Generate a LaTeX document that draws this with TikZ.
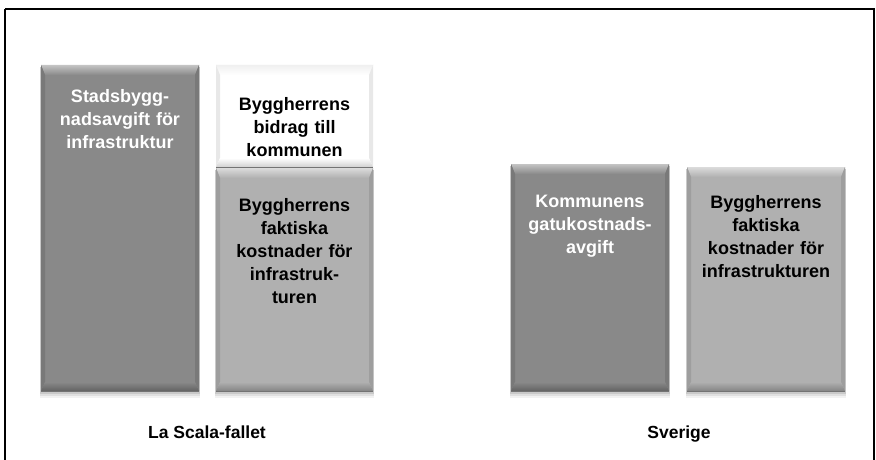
\documentclass[tikz,border=0pt]{standalone}
\usepackage{fontspec}
\setmainfont{Liberation Sans}
\usetikzlibrary{calc}

\definecolor{darkbar}{HTML}{898989}
\definecolor{lightbar}{HTML}{B0B0B0}
\definecolor{palebar}{HTML}{FFFFFF}

% Beveled bar: #1 node name, #2 base colour, #3 top band, #4 side bands, #5 bottom band
\newcommand\bevelbar[5]{%
  \fill[#2] (#1.north west) rectangle (#1.south east);
  \shade[top color=#3, bottom color=#2] (#1.north west) -- (#1.north east)
        -- ($(#1.north east)+(-4,10)$) -- ($(#1.north west)+(4,10)$) -- cycle;
  \fill[#4] (#1.north west) -- ($(#1.north west)+(4,10)$)
        -- ($(#1.south west)+(4,-9)$) -- (#1.south west) -- cycle;
  \fill[#4] (#1.north east) -- ($(#1.north east)+(-4,10)$)
        -- ($(#1.south east)+(-4,-9)$) -- (#1.south east) -- cycle;
  \shade[top color=#2, bottom color=#5] (#1.south west) -- (#1.south east)
        -- ($(#1.south east)+(-4,-9)$) -- ($(#1.south west)+(4,-9)$) -- cycle;
  \draw[black!55, line width=0.6pt] (#1.south west) -- (#1.south east);
}
% Soft shadow under a bar
\newcommand\barshadow[1]{%
  \foreach \d/\o in {7/0.05,5/0.07,3/0.10}{%
    \fill[black, opacity=\o] ($(#1.north west)+(-1,2)$) rectangle ($(#1.south east)+(1,\d)$);
  }%
}

\begin{document}
\begin{tikzpicture}[x=1pt, y=-1pt,
  bar/.style={inner sep=0pt, outer sep=0pt, draw=none},
  bartext/.style={font=\fontsize{18}{23}\selectfont\bfseries, align=center,
                  text width=156pt, inner sep=0pt, anchor=north},
  caption/.style={font=\fontsize{17.5}{21}\selectfont\bfseries, inner sep=0pt, anchor=base},
  frame/.style={draw=black, line width=2pt}]

\useasboundingbox (0,0) rectangle (876,460);
\fill[white] (0,0) rectangle (876,460);

% bars
\coordinate (c1) at (120,228);
\coordinate (c2a) at (294.5,116);
\coordinate (c2b) at (294.5,279.5);
\coordinate (c3) at (590,277.5);
\coordinate (c4) at (766,279);

\path (c1) node[bar, minimum width=158pt, minimum height=326pt] (b1) {};
\path (c2b) node[bar, minimum width=157pt, minimum height=223pt] (b2b) {};
\path (c2a) node[bar, minimum width=157pt, minimum height=102pt] (b2a) {};
\path (c3) node[bar, minimum width=158pt, minimum height=227pt] (b3) {};
\path (c4) node[bar, minimum width=158pt, minimum height=224pt] (b4) {};

\barshadow{b1}\barshadow{b2b}\barshadow{b3}\barshadow{b4}

\bevelbar{b1}{darkbar}{darkbar!50!white}{darkbar!88!black}{darkbar!72!black}
\bevelbar{b2b}{lightbar}{lightbar!45!white}{lightbar!90!black}{lightbar!75!black}
\bevelbar{b2a}{palebar}{black!6}{black!9}{black!18}
\bevelbar{b3}{darkbar}{darkbar!50!white}{darkbar!88!black}{darkbar!72!black}
\bevelbar{b4}{lightbar}{lightbar!45!white}{lightbar!90!black}{lightbar!75!black}

% bar labels
\node[bartext, text=white] (t1) at (120,89) {Stadsbygg-\\nadsavgift för\\infrastruktur};
\node[bartext] (t2a) at (294.5,97) {Byggherrens\\bidrag till\\kommunen};
\node[bartext] (t2b) at (294.5,198) {Byggherrens\\faktiska\\kostnader för\\infrastruk-\\turen};
\node[bartext, text=white] (t3) at (590,195) {Kommunens\\gatukostnads-\\avgift};
\node[bartext] (t4) at (766,195) {Byggherrens\\faktiska\\kostnader för\\infrastrukturen};

% group captions
\node[caption] (lascala) at (207,438) {La Scala-fallet};
\node[caption] (sverige) at (679,438) {Sverige};

% frame
\draw[frame] (5,9) -- (874,9) -- (874,470) (5,470) -- (5,9);
\end{tikzpicture}
\end{document}
